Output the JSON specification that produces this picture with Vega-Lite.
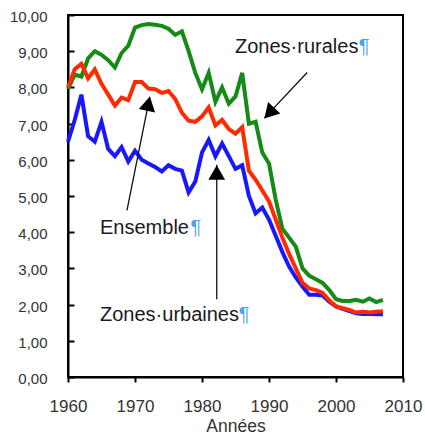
{
  "$schema": "https://vega.github.io/schema/vega-lite/v6.json",
  "width": 335,
  "height": 362,
  "autosize": "none",
  "padding": {"left": 68, "top": 15, "right": 22, "bottom": 58},
  "background": "white",
  "config": {
    "view": {"stroke": "black", "strokeWidth": 2},
    "axis": {"grid": false, "domainColor": "black", "domainWidth": 2, "tickColor": "black", "tickWidth": 2,
      "labelFont": "Liberation Sans", "labelFontSize": 15, "labelColor": "#333", "labelOverlap": false,
      "titleFont": "Liberation Sans", "titleFontSize": 17.5, "titleFontWeight": "normal", "titleColor": "#333"}
  },
  "datasets": {
    "lines": [
      {"year":1960,"series":"rurales","value":7.95},{"year":1961,"series":"rurales","value":8.35},{"year":1962,"series":"rurales","value":8.3},{"year":1963,"series":"rurales","value":8.8},{"year":1964,"series":"rurales","value":9.0},{"year":1965,"series":"rurales","value":8.9},{"year":1966,"series":"rurales","value":8.75},{"year":1967,"series":"rurales","value":8.55},{"year":1968,"series":"rurales","value":8.95},{"year":1969,"series":"rurales","value":9.15},{"year":1970,"series":"rurales","value":9.65},{"year":1971,"series":"rurales","value":9.72},{"year":1972,"series":"rurales","value":9.75},{"year":1973,"series":"rurales","value":9.73},{"year":1974,"series":"rurales","value":9.7},{"year":1975,"series":"rurales","value":9.62},{"year":1976,"series":"rurales","value":9.45},{"year":1977,"series":"rurales","value":9.55},{"year":1978,"series":"rurales","value":9.0},{"year":1979,"series":"rurales","value":8.4},{"year":1980,"series":"rurales","value":7.95},{"year":1981,"series":"rurales","value":8.4},{"year":1982,"series":"rurales","value":7.6},{"year":1983,"series":"rurales","value":8.0},{"year":1984,"series":"rurales","value":7.55},{"year":1985,"series":"rurales","value":7.75},{"year":1986,"series":"rurales","value":8.4},{"year":1987,"series":"rurales","value":7.0},{"year":1988,"series":"rurales","value":7.05},{"year":1989,"series":"rurales","value":6.2},{"year":1990,"series":"rurales","value":5.9},{"year":1991,"series":"rurales","value":4.9},{"year":1992,"series":"rurales","value":4.1},{"year":1993,"series":"rurales","value":3.85},{"year":1994,"series":"rurales","value":3.6},{"year":1995,"series":"rurales","value":3.0},{"year":1996,"series":"rurales","value":2.8},{"year":1997,"series":"rurales","value":2.7},{"year":1998,"series":"rurales","value":2.6},{"year":1999,"series":"rurales","value":2.4},{"year":2000,"series":"rurales","value":2.15},{"year":2001,"series":"rurales","value":2.1},{"year":2002,"series":"rurales","value":2.1},{"year":2003,"series":"rurales","value":2.13},{"year":2004,"series":"rurales","value":2.08},{"year":2005,"series":"rurales","value":2.17},{"year":2006,"series":"rurales","value":2.07},{"year":2007,"series":"rurales","value":2.13},
      {"year":1960,"series":"urbaines","value":6.5},{"year":1961,"series":"urbaines","value":7.1},{"year":1962,"series":"urbaines","value":7.8},{"year":1963,"series":"urbaines","value":6.65},{"year":1964,"series":"urbaines","value":6.5},{"year":1965,"series":"urbaines","value":7.05},{"year":1966,"series":"urbaines","value":6.3},{"year":1967,"series":"urbaines","value":6.1},{"year":1968,"series":"urbaines","value":6.35},{"year":1969,"series":"urbaines","value":5.95},{"year":1970,"series":"urbaines","value":6.25},{"year":1971,"series":"urbaines","value":6.0},{"year":1972,"series":"urbaines","value":5.9},{"year":1973,"series":"urbaines","value":5.8},{"year":1974,"series":"urbaines","value":5.68},{"year":1975,"series":"urbaines","value":5.85},{"year":1976,"series":"urbaines","value":5.75},{"year":1977,"series":"urbaines","value":5.7},{"year":1978,"series":"urbaines","value":5.1},{"year":1979,"series":"urbaines","value":5.4},{"year":1980,"series":"urbaines","value":6.2},{"year":1981,"series":"urbaines","value":6.55},{"year":1982,"series":"urbaines","value":6.1},{"year":1983,"series":"urbaines","value":6.45},{"year":1984,"series":"urbaines","value":6.1},{"year":1985,"series":"urbaines","value":5.75},{"year":1986,"series":"urbaines","value":5.85},{"year":1987,"series":"urbaines","value":5.0},{"year":1988,"series":"urbaines","value":4.52},{"year":1989,"series":"urbaines","value":4.68},{"year":1990,"series":"urbaines","value":4.35},{"year":1991,"series":"urbaines","value":3.9},{"year":1992,"series":"urbaines","value":3.45},{"year":1993,"series":"urbaines","value":3.05},{"year":1994,"series":"urbaines","value":2.75},{"year":1995,"series":"urbaines","value":2.5},{"year":1996,"series":"urbaines","value":2.27},{"year":1997,"series":"urbaines","value":2.27},{"year":1998,"series":"urbaines","value":2.25},{"year":1999,"series":"urbaines","value":2.08},{"year":2000,"series":"urbaines","value":1.95},{"year":2001,"series":"urbaines","value":1.88},{"year":2002,"series":"urbaines","value":1.82},{"year":2003,"series":"urbaines","value":1.76},{"year":2004,"series":"urbaines","value":1.74},{"year":2005,"series":"urbaines","value":1.75},{"year":2006,"series":"urbaines","value":1.73},{"year":2007,"series":"urbaines","value":1.73},
      {"year":1960,"series":"ensemble","value":8.0},{"year":1961,"series":"ensemble","value":8.5},{"year":1962,"series":"ensemble","value":8.65},{"year":1963,"series":"ensemble","value":8.25},{"year":1964,"series":"ensemble","value":8.5},{"year":1965,"series":"ensemble","value":8.1},{"year":1966,"series":"ensemble","value":7.8},{"year":1967,"series":"ensemble","value":7.5},{"year":1968,"series":"ensemble","value":7.72},{"year":1969,"series":"ensemble","value":7.65},{"year":1970,"series":"ensemble","value":8.15},{"year":1971,"series":"ensemble","value":8.15},{"year":1972,"series":"ensemble","value":7.97},{"year":1973,"series":"ensemble","value":7.95},{"year":1974,"series":"ensemble","value":7.85},{"year":1975,"series":"ensemble","value":7.9},{"year":1976,"series":"ensemble","value":7.68},{"year":1977,"series":"ensemble","value":7.3},{"year":1978,"series":"ensemble","value":7.08},{"year":1979,"series":"ensemble","value":7.05},{"year":1980,"series":"ensemble","value":7.2},{"year":1981,"series":"ensemble","value":7.45},{"year":1982,"series":"ensemble","value":6.95},{"year":1983,"series":"ensemble","value":7.1},{"year":1984,"series":"ensemble","value":6.85},{"year":1985,"series":"ensemble","value":6.72},{"year":1986,"series":"ensemble","value":6.9},{"year":1987,"series":"ensemble","value":5.7},{"year":1988,"series":"ensemble","value":5.45},{"year":1989,"series":"ensemble","value":5.15},{"year":1990,"series":"ensemble","value":4.85},{"year":1991,"series":"ensemble","value":4.35},{"year":1992,"series":"ensemble","value":3.85},{"year":1993,"series":"ensemble","value":3.4},{"year":1994,"series":"ensemble","value":3.0},{"year":1995,"series":"ensemble","value":2.6},{"year":1996,"series":"ensemble","value":2.45},{"year":1997,"series":"ensemble","value":2.4},{"year":1998,"series":"ensemble","value":2.32},{"year":1999,"series":"ensemble","value":2.12},{"year":2000,"series":"ensemble","value":1.95},{"year":2001,"series":"ensemble","value":1.9},{"year":2002,"series":"ensemble","value":1.85},{"year":2003,"series":"ensemble","value":1.78},{"year":2004,"series":"ensemble","value":1.8},{"year":2005,"series":"ensemble","value":1.78},{"year":2006,"series":"ensemble","value":1.8},{"year":2007,"series":"ensemble","value":1.82}
    ],
    "arrows": [
      {"x":1995.7,"y":8.41,"x2":1989.3,"y2":7.15,"hx":1990.04,"hy":7.29,"angle":223},
      {"x":1968.8,"y":4.6,"x2":1972.2,"y2":7.74,"hx":1972.0,"hy":7.55,"angle":12},
      {"x":1982.2,"y":2.15,"x2":1982.2,"y2":5.86,"hx":1982.2,"hy":5.65,"angle":0}
    ],
    "labels": [
      {"text":"Zones·rurales","x":1984.93,"y":8.94,"px":2003.4},
      {"text":"Ensemble","x":1964.78,"y":3.94,"px":1978.3},
      {"text":"Zones·urbaines","x":1964.78,"y":1.555,"px":1985.5}
    ]
  },
  "layer": [
    {
      "data": {"name": "lines"},
      "transform": [{"filter": "datum.series == 'rurales'"}],
      "mark": {"type": "line", "color": "#168a16", "strokeWidth": 4},
      "encoding": {
        "x": {"field": "year", "type": "quantitative", "scale": {"domain": [1960, 2010], "nice": false},
          "axis": {"values": [1960,1970,1980,1990,2000,2010], "format": "d", "title": "Années", "tickSize": 5, "labelFontSize": 17, "labelPadding": 16, "titlePadding": 3, "labelFlush": false, "labelOverlap": false}},
        "y": {"field": "value", "type": "quantitative", "scale": {"domain": [0, 10], "nice": false},
          "axis": {"values": [0,1,2,3,4,5,6,7,8,9,10], "tickCount": 11, "labelExpr": "replace(format(datum.value, '.2f'), '.', ',')", "title": null, "tickSize": -6, "labelPadding": 27, "labelFlush": false, "labelOverlap": false, "labelBound": false, "labelOffset": 1.5}}
      }
    },
    {
      "data": {"name": "lines"},
      "transform": [{"filter": "datum.series == 'urbaines'"}],
      "mark": {"type": "line", "color": "#1818ff", "strokeWidth": 4},
      "encoding": {
        "x": {"field": "year", "type": "quantitative"},
        "y": {"field": "value", "type": "quantitative"}
      }
    },
    {
      "data": {"name": "lines"},
      "transform": [{"filter": "datum.series == 'ensemble'"}],
      "mark": {"type": "line", "color": "#ff2a00", "strokeWidth": 4},
      "encoding": {
        "x": {"field": "year", "type": "quantitative"},
        "y": {"field": "value", "type": "quantitative"}
      }
    },
    {
      "data": {"name": "arrows"},
      "mark": {"type": "rule", "color": "#111", "strokeWidth": 1.3},
      "encoding": {
        "x": {"field": "x", "type": "quantitative"},
        "y": {"field": "y", "type": "quantitative"},
        "x2": {"field": "x2"},
        "y2": {"field": "y2"}
      }
    },
    {
      "data": {"name": "arrows"},
      "mark": {"type": "point", "shape": "triangle-up", "filled": true, "color": "#000", "opacity": 1, "size": 280},
      "encoding": {
        "x": {"field": "hx", "type": "quantitative"},
        "y": {"field": "hy", "type": "quantitative"},
        "angle": {"field": "angle", "type": "quantitative", "scale": null}
      }
    },
    {
      "data": {"name": "labels"},
      "mark": {"type": "text", "align": "left", "baseline": "alphabetic", "font": "Liberation Sans", "fontSize": 20, "color": "#1a1a22"},
      "encoding": {
        "x": {"field": "x", "type": "quantitative"},
        "y": {"field": "y", "type": "quantitative"},
        "text": {"field": "text"}
      }
    },
    {
      "data": {"name": "labels"},
      "mark": {"type": "text", "align": "left", "baseline": "alphabetic", "font": "Liberation Sans", "fontSize": 20, "color": "#4da3e6", "text": "¶"},
      "encoding": {
        "x": {"field": "px", "type": "quantitative"},
        "y": {"field": "y", "type": "quantitative"}
      }
    }
  ]
}
